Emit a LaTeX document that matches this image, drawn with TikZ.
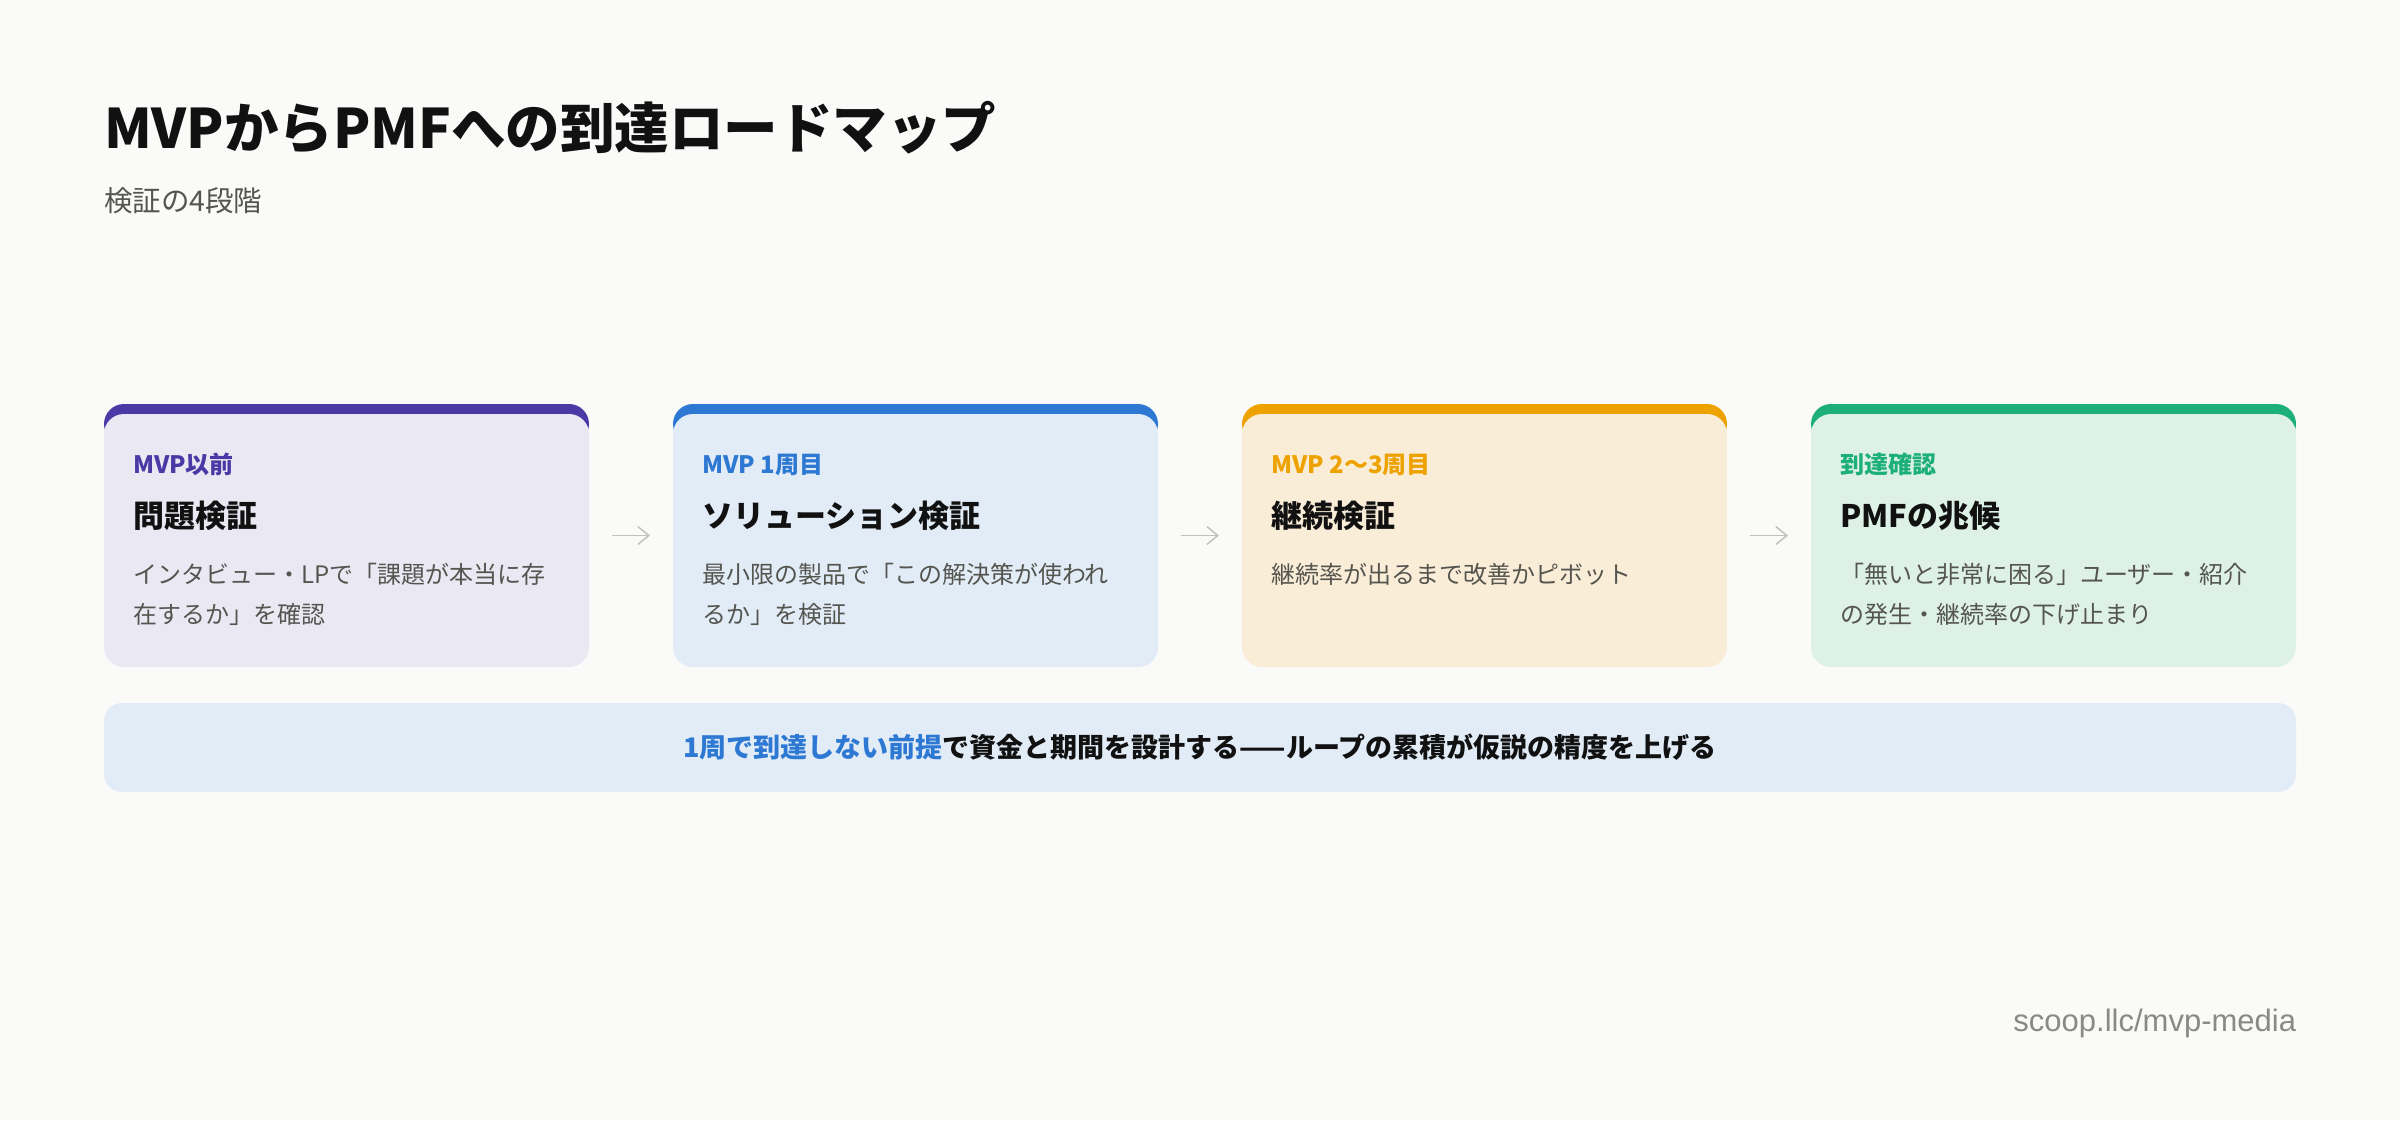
\documentclass[tikz,border=0pt]{standalone}
\usepackage{fontspec}
\setmainfont{Noto Sans CJK JP}
\newfontfamily\latinsans{Liberation Sans}
\usetikzlibrary{arrows.meta,calc}
\definecolor{bg}{HTML}{FAFAF8}
\definecolor{ink}{HTML}{111111}
\definecolor{subgray}{HTML}{555550}
\definecolor{descgray}{HTML}{55554F}
\definecolor{footgray}{HTML}{8A8A85}
\definecolor{arrowgray}{HTML}{C2C2BA}
\definecolor{purpleA}{HTML}{4B3AA6}
\definecolor{purpleB}{HTML}{EAE8F3}
\definecolor{blueA}{HTML}{2D78D3}
\definecolor{blueB}{HTML}{E2ECF7}
\definecolor{orangeA}{HTML}{EDA200}
\definecolor{orangeB}{HTML}{FAEDD7}
\definecolor{greenA}{HTML}{1DAF7A}
\definecolor{greenB}{HTML}{DDF1E7}
\begin{document}
\begin{tikzpicture}[x=1pt,y=-1pt,
  txt/.style={inner sep=0pt, outer sep=0pt},
  cardbox/.style={inner sep=0pt, outer sep=0pt, minimum width=485pt, minimum height=263pt},
  lab/.style={txt, anchor=base west, font=\fontsize{24pt}{28pt}\selectfont\bfseries},
  ttl/.style={txt, anchor=base west, text=ink, font=\fontsize{31pt}{36pt}\selectfont\bfseries},
  desc/.style={txt, anchor=north west, align=left, text=descgray, font=\fontsize{24pt}{40pt}\selectfont},
  conn/.style={draw=arrowgray, line width=1.5pt, -{Straight Barb[length=11pt,width=18pt]}, shorten <=23pt, shorten >=23pt}
]
\fill[bg] (0,0) rectangle (2400,1120);
\useasboundingbox (0,0) rectangle (2400,1120);

% title
\node[txt, anchor=base west, text=ink, font=\fontsize{54.5pt}{64pt}\selectfont\bfseries] (title) at (104,148) {MVPからPMFへの到達ロードマップ};
\node[txt, anchor=base west, text=subgray, font=\fontsize{28.5pt}{32pt}\selectfont] (subtitle) at (104,211) {検証の4段階};

% cards
\newcommand{\stagecard}[9]{%
  \node[cardbox] (#1) at (#9,535.5) {};
  \fill[#2, rounded corners=20pt] (#1.north west) rectangle ($(#1.north east)+(0,40)$);
  \fill[#3, rounded corners=20pt] ($(#1.north west)+(0,10)$) rectangle (#1.south east);
  \node[lab, text=#2] (#1lab) at ($(#1.north west)+(29,69)$) {#4};
  \node[ttl] (#1ttl) at ($(#1.north west)+(29,123)$) {#5};
  \node[desc] (#1desc) at ($(#1.north west)+(29,159)$) {#6\\#7};
}
\stagecard{c1}{purpleA}{purpleB}{MVP以前}{問題検証}{インタビュー・LPで「課題が本当に存}{在するか」を確認}{}{346.5}
\stagecard{c2}{blueA}{blueB}{MVP 1周目}{ソリューション検証}{最小限の製品で「この解決策が使われ}{るか」を検証}{}{915.5}
\stagecard{c3}{orangeA}{orangeB}{MVP 2〜3周目}{継続検証}{継続率が出るまで改善かピボット}{}{}{1484.5}
\stagecard{c4}{greenA}{greenB}{到達確認}{PMFの兆候}{「無いと非常に困る」ユーザー・紹介}{の発生・継続率の下げ止まり}{}{2053.5}

\draw[conn] (c1.east) -- (c2.west);
\draw[conn] (c2.east) -- (c3.west);
\draw[conn] (c3.east) -- (c4.west);

% banner
\node[fill=blueB, rounded corners=18pt, inner sep=0pt, minimum width=2192pt, minimum height=89pt, text=ink,
  font=\fontsize{27pt}{32pt}\selectfont\bfseries] (banner) at (1200,747.5)
  {{\color{blueA}1周で到達しない前提}で資金と期間を設計する——ループの累積が仮説の精度を上げる};

% footer
\node[txt, anchor=base east, text=footgray, font=\latinsans\fontsize{31pt}{36pt}\selectfont] (footer) at (2296,1031) {scoop.llc/mvp-media};
\end{tikzpicture}
\end{document}
